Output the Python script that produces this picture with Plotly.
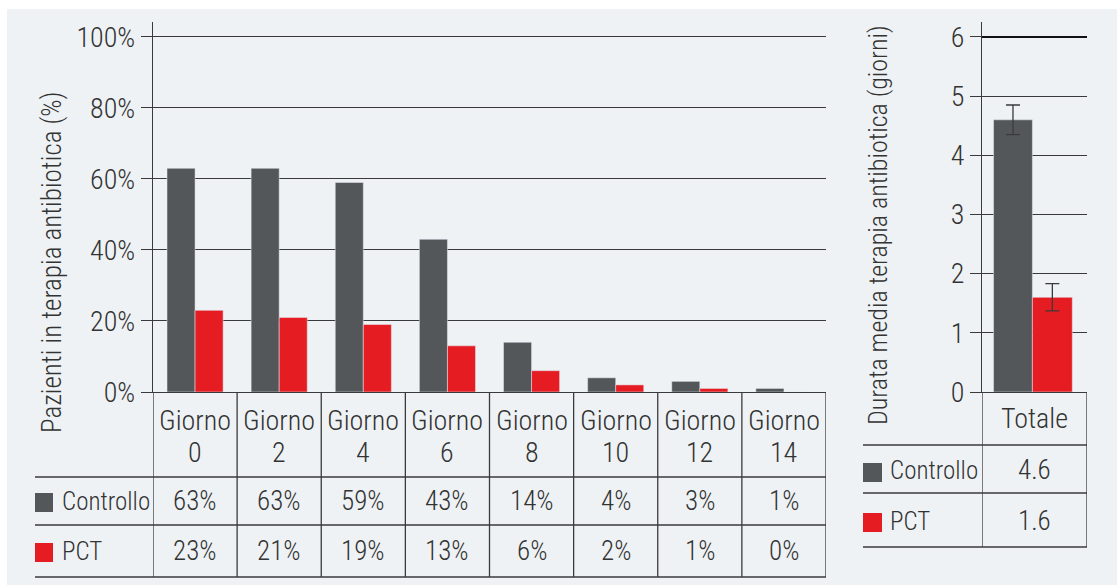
import plotly.graph_objects as go

# --- data ---------------------------------------------------------------
giorni = ["0", "2", "4", "6", "8", "10", "12", "14"]
controllo_pct = [63, 63, 59, 43, 14, 4, 3, 1]
pct_pct = [23, 21, 19, 13, 6, 2, 1, 0]

totale_label = ["Totale"]
controllo_durata = [4.6]
pct_durata = [1.6]
controllo_err = [0.25]
pct_err = [0.23]

serie = ["Controllo", "PCT"]
pct_ticks = [0, 20, 40, 60, 80, 100]
durata_ticks = [0, 1, 2, 3, 4, 5, 6]

# --- style --------------------------------------------------------------
W, H = 1117, 585
GREY = "#54575a"
RED = "#e61c23"
INK = "#333333"
LINE = "#3a3a3a"
BG = "#eef2f5"
FONT = "Roboto Condensed, DejaVu Sans Condensed, sans-serif"
colori = [GREY, RED]


def fx(px):
    return px / W


def fy(py):
    return 1 - py / H


cat_left = ["Giorno " + g for g in giorni]

fig = go.Figure()
fig.add_trace(go.Bar(x=cat_left, y=controllo_pct, marker_color=GREY, name=serie[0],
                     xaxis="x", yaxis="y", offsetgroup="a"))
fig.add_trace(go.Bar(x=cat_left, y=pct_pct, marker_color=RED, name=serie[1],
                     xaxis="x", yaxis="y", offsetgroup="b"))
fig.add_trace(go.Bar(x=totale_label, y=controllo_durata, marker_color=GREY, name=serie[0],
                     xaxis="x2", yaxis="y2", offsetgroup="a", width=0.37, offset=-0.39,
                     error_y=dict(type="data", array=controllo_err, color=LINE,
                                  thickness=1.3, width=7)))
fig.add_trace(go.Bar(x=totale_label, y=pct_durata, marker_color=RED, name=serie[1],
                     xaxis="x2", yaxis="y2", offsetgroup="b", width=0.38, offset=-0.02,
                     error_y=dict(type="data", array=pct_err, color=LINE,
                                  thickness=1.3, width=7)))

y_bottom, y_top = fy(392), fy(22)
tick_font = dict(size=28, color=INK, family=FONT, weight=300)

common_x = dict(showticklabels=False, showline=True, linecolor=LINE, linewidth=1.3,
                ticks="", showgrid=False, zeroline=False, automargin=False,
                fixedrange=True)
common_y = dict(ticks="outside", ticklen=11, tickcolor=LINE, tickwidth=1.3,
                tickfont=tick_font, ticklabelstandoff=0,
                showline=True, linecolor=LINE, linewidth=1.3,
                showgrid=True, gridcolor=LINE, gridwidth=1.3, zeroline=False,
                automargin=False, fixedrange=True)

fig.update_layout(
    width=W, height=H, autosize=False,
    margin=dict(l=0, r=0, t=0, b=0, pad=0),
    paper_bgcolor="white",
    plot_bgcolor="rgba(0,0,0,0)",
    showlegend=False,
    barmode="group",
    bargap=0.333,
    bargroupgap=0,
    font=dict(family=FONT, color=INK),
    xaxis=dict(domain=[fx(153), fx(826)], anchor="y",
               range=[-0.5, len(giorni) - 0.5], **common_x),
    yaxis=dict(domain=[y_bottom, y_top], anchor="x", range=[0, 104.2],
               tickvals=pct_ticks, ticktext=[f"{v}%" for v in pct_ticks], **common_y),
    xaxis2=dict(domain=[fx(982), fx(1087)], anchor="y2", range=[-0.5, 0.5], **common_x),
    yaxis2=dict(domain=[y_bottom, y_top], anchor="x2", range=[0, 6.253],
                tickvals=durata_ticks, **common_y),
)

shapes = []
# light panel background with a thin white frame along the top and left
shapes.append(dict(type="rect", xref="paper", yref="paper", x0=fx(7), x1=1, y0=0, y1=fy(9),
                   fillcolor=BG, line=dict(width=0), layer="below"))
# heavier top line on the duration panel
shapes.append(dict(type="line", xref="x2", yref="y2", x0=-0.5, x1=0.5, y0=6, y1=6,
                   line=dict(color="#111111", width=2)))


def hline(x0, x1, py):
    shapes.append(dict(type="line", xref="paper", yref="paper", x0=x0, x1=x1,
                       y0=fy(py), y1=fy(py), line=dict(color=LINE, width=1.3)))


def vline(x, py0, py1, xref):
    shapes.append(dict(type="line", xref=xref, yref="paper", x0=x, x1=x,
                       y0=fy(py0), y1=fy(py1), line=dict(color=LINE, width=1.3)))


# left table grid
for py in (477, 525, 577):
    hline(fx(35), fx(826), py)
for i in range(len(giorni) + 1):
    vline(i - 0.5, 392, 577, "x")

# right table grid
for py in (445, 493, 547):
    hline(fx(863), fx(1087), py)
for xv in (-0.5, 0.5):
    vline(xv, 392, 547, "x2")

# legend squares
for (x0, x1), rows in (((35, 53), ((493, 512), (543, 562))),
                       ((863, 882), ((463, 482), (513, 532)))):
    for col, (y0, y1) in zip(colori, rows):
        shapes.append(dict(type="rect", xref="paper", yref="paper",
                           x0=fx(x0), x1=fx(x1), y0=fy(y1), y1=fy(y0),
                           fillcolor=col, line=dict(width=0)))

annotations = []


def text(x, py, s, xref="paper", size=26, xanchor="center", angle=0):
    annotations.append(dict(x=x, y=fy(py), xref=xref, yref="paper", text=s,
                            showarrow=False, xanchor=xanchor, yanchor="middle",
                            textangle=angle,
                            font=dict(size=size, color=INK, family=FONT, weight=300)))


# left table contents
for i, g in enumerate(giorni):
    text(i, 420, "Giorno", "x", size=28)
    text(i, 452, g, "x", size=28)
    text(i, 501, f"{controllo_pct[i]}%", "x", size=27)
    text(i, 551, f"{pct_pct[i]}%", "x", size=27)
text(fx(60), 501, serie[0], xanchor="left", size=25)
text(fx(60), 551, serie[1], xanchor="left", size=25)

# right table contents
text(0, 418, totale_label[0], "x2", size=28)
text(0, 470, f"{controllo_durata[0]:.1f}", "x2", size=27)
text(0, 521, f"{pct_durata[0]:.1f}", "x2", size=27)
text(fx(888), 470, serie[0], xanchor="left", size=25)
text(fx(888), 521, serie[1], xanchor="left", size=25)

# axis titles
text(fx(52), 262, "Pazienti in terapia antibiotica (%)", size=27, angle=-90)
text(fx(878), 225, "Durata media terapia antibiotica (giorni)", size=26, angle=-90)

fig.update_layout(shapes=shapes, annotations=annotations)
fig.write_html("out.html")
